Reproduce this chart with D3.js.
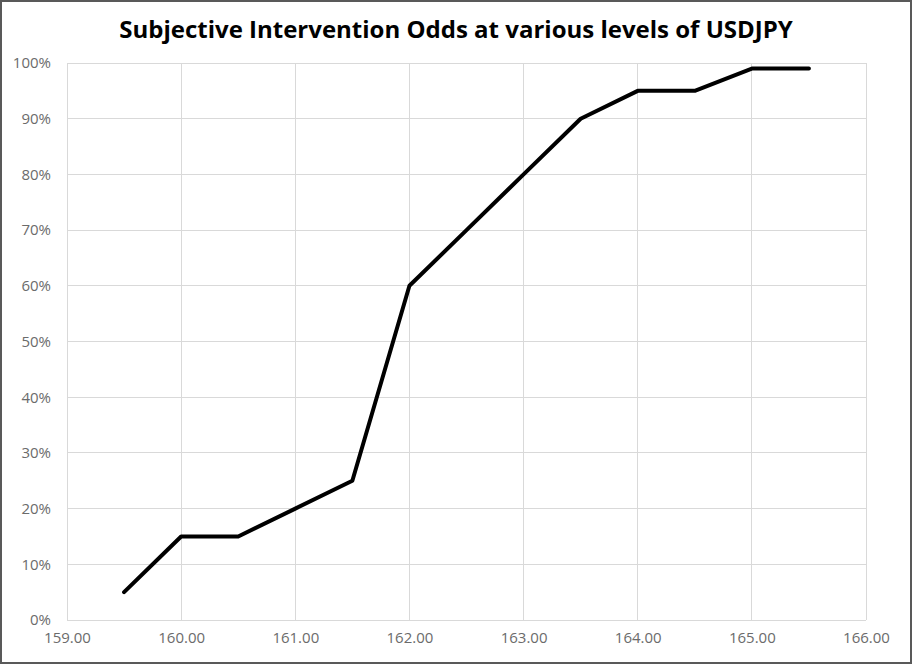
<!DOCTYPE html>
<html><head><meta charset="utf-8">
<script src="https://cdn.jsdelivr.net/npm/d3@7/dist/d3.min.js"></script>
<style>
html,body{margin:0;padding:0;background:#fff;}
svg{display:block;font-family:"Open Sans",sans-serif;}
</style></head>
<body>
<svg id="c" width="913" height="665"></svg>
<script>
const levels = [159.5,160,160.5,161,161.5,162,162.5,163,163.5,164,164.5,165,165.5];
const odds = [0.05,0.15,0.15,0.20,0.25,0.60,0.70,0.80,0.90,0.95,0.95,0.99,0.99];
const xTicks = [159,160,161,162,163,164,165,166];
const yTicks = [0,0.1,0.2,0.3,0.4,0.5,0.6,0.7,0.8,0.9,1.0];
const title = "Subjective Intervention Odds at various levels of USDJPY";

const svg = d3.select("#c");
const W = 913, H = 665;
const m = {l:67, r:47, t:63, b:45};
svg.append("rect").attr("x",1).attr("y",1).attr("width",W-3).attr("height",H-3)
  .attr("fill","#fff").attr("stroke","#595959").attr("stroke-width",2);

const x = d3.scaleLinear().domain([159,166]).range([m.l, W-m.r]);
const y = d3.scaleLinear().domain([0,1]).range([H-m.b, m.t]);

const g = svg.append("g");
g.selectAll(".vx").data(xTicks).join("line")
  .attr("x1",d=>x(d)).attr("x2",d=>x(d)).attr("y1",y(0)).attr("y2",y(1))
  .attr("stroke","#d9d9d9").attr("stroke-width",1).attr("shape-rendering","crispEdges");
g.selectAll(".hy").data(yTicks).join("line")
  .attr("x1",x(159)).attr("x2",x(166)).attr("y1",d=>y(d)).attr("y2",d=>y(d))
  .attr("stroke","#d9d9d9").attr("stroke-width",1).attr("shape-rendering","crispEdges");

const xa = svg.append("g").attr("transform",`translate(0,${y(0)})`)
  .call(d3.axisBottom(x).tickValues(xTicks).tickFormat(d3.format(".2f")).tickSize(0).tickPadding(12));
const ya = svg.append("g").attr("transform",`translate(${x(159)},0)`)
  .call(d3.axisLeft(y).tickValues(yTicks).tickFormat(d3.format(".0%")).tickSize(0).tickPadding(16));
[xa,ya].forEach(a=>{
  a.select(".domain").remove();
  a.selectAll("text").attr("fill","#6b6b6b").style("font-size","15px").style("font-family","'Open Sans',sans-serif");
});

const line = d3.line().x((d,i)=>x(levels[i])).y(d=>y(d));
svg.append("path").datum(odds).attr("d",line).attr("fill","none")
  .attr("stroke","#000").attr("stroke-width",4).attr("stroke-linejoin","round").attr("stroke-linecap","round");

svg.append("text").attr("x",456).attr("y",38).attr("text-anchor","middle")
  .style("font-size","24px").style("font-weight","bold").attr("fill","#000").text(title);
</script>
</body></html>
